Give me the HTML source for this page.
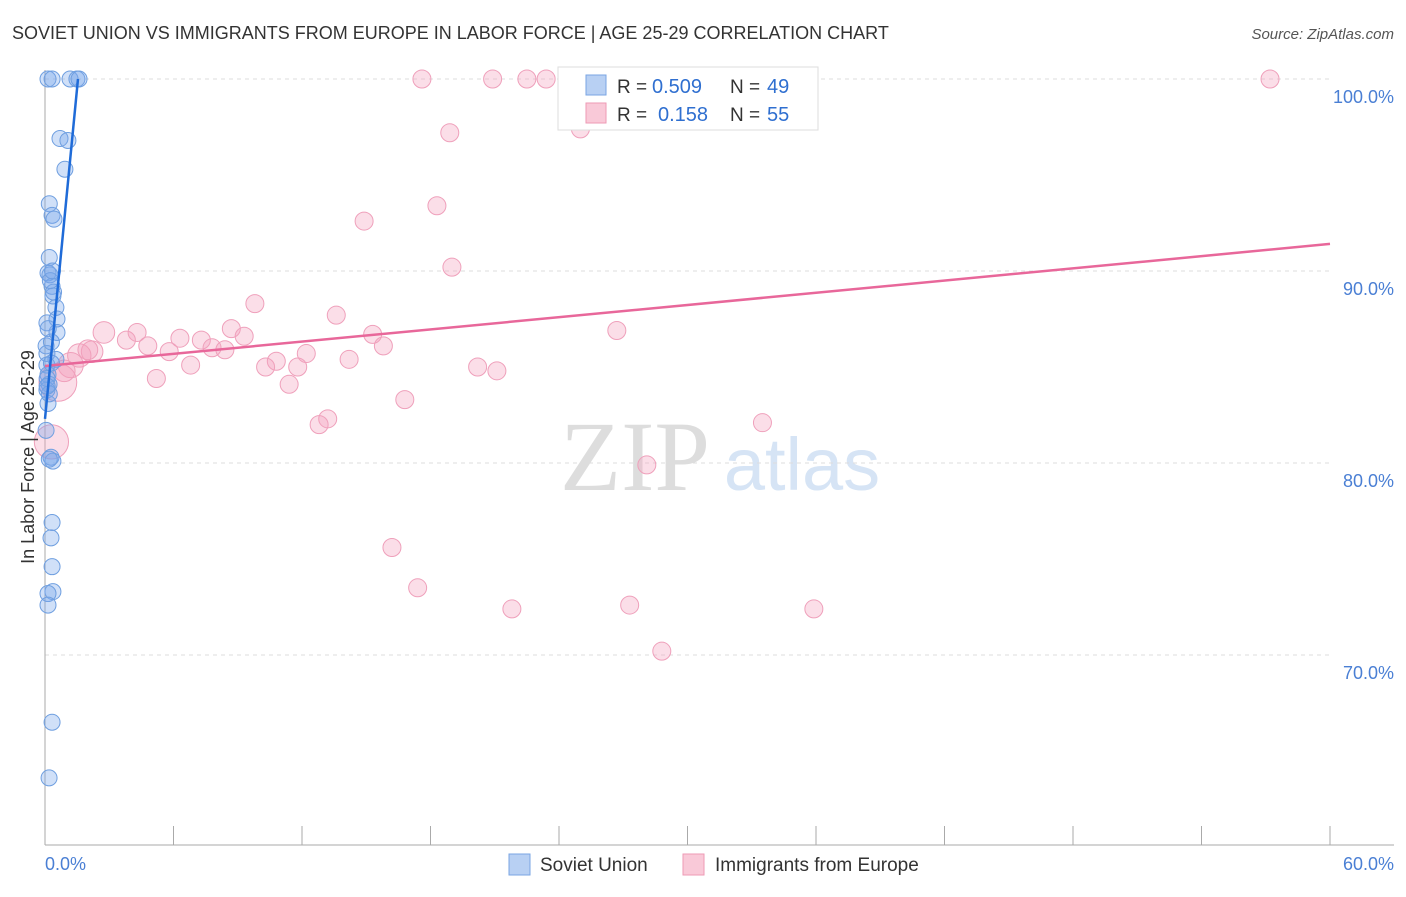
<!DOCTYPE html>
<html><head><meta charset="utf-8"><style>
body{margin:0;background:#fff;font-family:"Liberation Sans",sans-serif;}
</style></head><body>
<svg width="1406" height="892" xmlns="http://www.w3.org/2000/svg">
<text x="12" y="39" font-size="18" fill="#333">SOVIET UNION VS IMMIGRANTS FROM EUROPE IN LABOR FORCE | AGE 25-29 CORRELATION CHART</text>
<text x="1394" y="39" font-size="15" fill="#555" font-style="italic" text-anchor="end">Source: ZipAtlas.com</text>
<g>
<text x="635" y="490" font-size="100" fill="#ddd" text-anchor="middle" font-family="Liberation Serif,serif">ZIP</text>
<text x="802" y="490" font-size="74" fill="#d6e4f5" text-anchor="middle">atlas</text>
</g>
<g id="grid"></g><g id="axes"></g><g id="pts"></g><g id="lines"></g>
<text transform="translate(34,457) rotate(-90)" font-size="18" fill="#333" text-anchor="middle">In Labor Force | Age 25-29</text>
<text x="45" y="870" font-size="18" fill="#4a7fd4">0.0%</text>
<text x="1394" y="870" font-size="18" fill="#4a7fd4" text-anchor="end">60.0%</text>
<g>
<rect x="558" y="67" width="260" height="63" fill="#fff" stroke="#ddd"/>
<rect x="586" y="75" width="20" height="20" fill="#b8d0f3" stroke="#7aa5e3"/>
<rect x="586" y="103" width="20" height="20" fill="#f9c9d8" stroke="#ee9ab5"/>
<text x="617" y="93" font-size="19" fill="#333">R =</text>
<text x="652" y="93" font-size="20" fill="#2f6fd0">0.509</text>
<text x="730" y="93" font-size="19" fill="#333">N =</text>
<text x="767" y="93" font-size="20" fill="#2f6fd0">49</text>
<text x="617" y="121" font-size="19" fill="#333">R =</text>
<text x="658" y="121" font-size="20" fill="#2f6fd0">0.158</text>
<text x="730" y="121" font-size="19" fill="#333">N =</text>
<text x="767" y="121" font-size="20" fill="#2f6fd0">55</text>
</g>
<g>
<rect x="509" y="854" width="21" height="21" fill="#b8d0f3" stroke="#7aa5e3"/>
<text x="540" y="871" font-size="19" fill="#333">Soviet Union</text>
<rect x="683" y="854" width="21" height="21" fill="#f9c9d8" stroke="#ee9ab5"/>
<text x="715" y="871" font-size="19" fill="#333">Immigrants from Europe</text>
</g>
</svg>
<script>
const yTicks=[100,90,80,70];
const yTickLabels=["100.0%","90.0%","80.0%","70.0%"];
const xTicks=[0,6,12,18,24,30,36,42,48,54,60];
const blueX=[0.14,0.33,1.17,1.49,1.59,0.7,1.07,0.93,0.2,0.33,0.42,0.2,0.14,0.23,0.33,0.37,0.51,0.56,0.09,0.56,0.05,0.09,0.51,0.09,0.14,0.19,0.09,0.14,0.05,0.28,0.37,0.33,0.28,0.33,0.37,0.14,0.14,0.33,0.19,0.1,0.2,0.3,0.4,0.15,0.25,0.1,0.3,0.2,0.35];
const blueY=[100,100,100,100,100,96.9,96.8,95.3,93.5,92.9,92.7,90.7,89.9,89.8,89.2,88.7,88.1,87.5,87.3,86.8,86.1,85.7,85.4,85.1,84.6,84.1,83.8,83.1,81.7,80.3,80.1,76.9,76.1,74.6,73.3,73.2,72.6,66.5,63.6,84.4,83.6,85.2,88.9,87.0,89.5,84.0,86.3,80.2,90.0];
const pinkX=[17.6,20.9,22.5,23.4,31.1,57.2,18.9,25.0,18.3,14.9,19.0,9.8,13.6,2.75,4.3,6.3,7.3,8.7,9.3,15.3,15.8,26.7,3.8,4.8,5.8,7.8,8.4,2.2,1.6,1.2,0.6,12.2,10.8,10.3,11.8,6.8,14.2,20.2,21.1,5.2,11.4,16.8,13.2,12.8,33.5,0.3,28.1,16.2,17.4,21.8,27.3,35.9,28.8,0.9,2.0];
const pinkY=[100,100,100,100,100,100,97.2,97.4,93.4,92.6,90.2,88.3,87.7,86.8,86.8,86.5,86.4,87.0,86.6,86.7,86.1,86.9,86.4,86.1,85.8,86.0,85.9,85.8,85.6,85.1,84.2,85.7,85.3,85.0,85.0,85.1,85.4,85.0,84.8,84.4,84.1,83.3,82.3,82.0,82.1,81.1,79.9,75.6,73.5,72.4,72.6,72.4,70.2,84.8,85.9];
const pinkSize=[1,1,1,1,1,1,1,1,1,1,1,1,1,1.2,1,1,1,1,1,1,1,1,1,1,1,1,1,1.2,1.3,1.4,2.1,1,1,1,1,1,1,1,1,1,1,1,1,1,1,1.9,1,1,1,1,1,1,1,1.2,1.1];
const blueLine=[[0,82.3],[1.54,100]];
const pinkLine=[[0,85.05],[60,91.41]];
const X=v=>45+v/60*1285, Y=v=>79+(100-v)*19.2;
const NS="http://www.w3.org/2000/svg";
function mk(t,a,p){const e=document.createElementNS(NS,t);for(const k in a)e.setAttribute(k,a[k]);p.appendChild(e);return e;}
const grid=document.getElementById('grid'),axes=document.getElementById('axes'),pts=document.getElementById('pts'),lines=document.getElementById('lines');
yTicks.forEach((t,i)=>{
 const l=mk('line',{x1:45,x2:1330,y1:Y(t),y2:Y(t),stroke:'#ddd','stroke-dasharray':'4,4'},grid);
 
 
 const tx=mk('text',{x:1394,y:Y(t)+24,'font-size':18,fill:'#4a7fd4','text-anchor':'end'},grid);
 tx.textContent=yTickLabels[i];
 
 
});
const ax=mk('line',{x1:45,x2:45,y1:70,y2:845,stroke:'#aaa'},axes);


const bx=mk('line',{x1:45,x2:1394,y1:845,y2:845,stroke:'#aaa'},axes);


xTicks.forEach(t=>{
 const l=mk('line',{x1:X(t),x2:X(t),y1:826,y2:845,stroke:'#aaa'},axes);
 
 
});
pinkX.forEach((v,i)=>{
 const c=mk('circle',{cx:X(v),cy:Y(pinkY[i]),r:9*pinkSize[i],fill:'rgba(244,160,190,0.35)',stroke:'#efa0bb','stroke-width':1},pts);
 
 
});
blueX.forEach((v,i)=>{
 const c=mk('circle',{cx:X(v),cy:Y(blueY[i]),r:8,fill:'rgba(120,165,235,0.35)',stroke:'#6f9fe0','stroke-width':1},pts);
 
 
});
const pl=mk('line',{x1:X(pinkLine[0][0]),y1:Y(pinkLine[0][1]),x2:X(pinkLine[1][0]),y2:Y(pinkLine[1][1]),stroke:'#e8679a','stroke-width':2.5},lines);


const bl=mk('line',{x1:X(blueLine[0][0]),y1:Y(blueLine[0][1]),x2:X(blueLine[1][0]),y2:Y(blueLine[1][1]),stroke:'#1f6bd8','stroke-width':2.5},lines);


</script>
</body></html>
